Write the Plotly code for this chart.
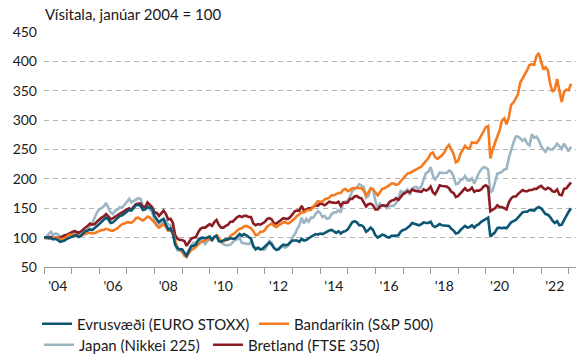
import pandas as pd
import plotly.graph_objects as go

# Monthly index values, January 2004 = 100 (Jan 2004 .. Feb 2023)
evrusvaedi = [
    100, 101, 99, 99, 97, 98, 96, 93, 94, 95, 98, 100,
    101, 103, 104, 101, 103, 107, 111, 112, 114, 113, 116, 119,
    123, 127, 131, 134, 131, 125, 126, 130, 133, 137, 138, 141,
    145, 147, 146, 151, 155, 156, 154, 147, 148, 152, 150, 149,
    137, 131, 126, 130, 132, 122, 114, 116, 106, 88, 82, 80,
    80, 74, 69, 77, 85, 86, 88, 95, 99, 100, 99, 100,
    102, 96, 101, 103, 94, 93, 95, 97, 97, 99, 98, 98,
    102, 106, 103, 106, 104, 101, 98, 86, 80, 83, 80, 81,
    85, 90, 92, 88, 82, 79, 80, 85, 88, 87, 88, 92,
    95, 95, 95, 93, 98, 95, 96, 99, 101, 104, 106, 105,
    107, 106, 108, 110, 112, 113, 110, 108, 111, 107, 110, 111,
    114, 121, 126, 128, 126, 121, 121, 118, 110, 113, 117, 113,
    104, 100, 103, 105, 104, 101, 100, 103, 103, 104, 104, 110,
    113, 114, 117, 120, 125, 124, 122, 121, 123, 126, 125, 125,
    127, 120, 118, 120, 123, 121, 121, 121, 120, 115, 112, 107,
    108, 113, 116, 120, 117, 118, 121, 117, 121, 123, 127, 129,
    131, 134, 102, 105, 109, 116, 117, 116, 117, 116, 122, 126,
    128, 130, 134, 139, 143, 144, 144, 147, 146, 146, 150, 152,
    150, 145, 140, 139, 135, 129, 125, 128, 121, 122, 131, 137,
    144, 150,
]

bandarikin = [
    100, 100, 100, 99, 98, 100, 99, 97, 98, 99, 102, 105,
    105, 105, 105, 103, 103, 105, 107, 108, 108, 107, 108, 110,
    112, 113, 113, 115, 114, 112, 112, 114, 116, 120, 123, 124,
    126, 126, 125, 128, 133, 134, 131, 129, 132, 136, 134, 130,
    126, 120, 117, 120, 123, 118, 112, 112, 108, 95, 82, 80,
    77, 69, 67, 74, 79, 81, 84, 88, 92, 93, 95, 98,
    97, 96, 100, 104, 100, 93, 94, 95, 97, 103, 105, 108,
    112, 115, 116, 119, 120, 118, 116, 111, 104, 105, 110, 110,
    113, 119, 122, 124, 120, 118, 121, 123, 126, 126, 124, 126,
    129, 133, 137, 140, 143, 143, 146, 147, 147, 152, 158, 162,
    161, 161, 165, 166, 168, 172, 172, 174, 176, 176, 181, 183,
    179, 181, 184, 184, 185, 184, 184, 180, 172, 177, 184, 182,
    176, 172, 177, 183, 184, 186, 189, 192, 192, 190, 191, 196,
    200, 205, 209, 210, 212, 214, 216, 218, 221, 226, 231, 235,
    243, 245, 237, 234, 237, 240, 245, 253, 258, 249, 242, 228,
    231, 243, 249, 256, 252, 252, 262, 261, 261, 266, 274, 282,
    288, 290, 235, 250, 263, 272, 282, 299, 303, 293, 305, 326,
    330, 338, 344, 364, 371, 377, 385, 394, 395, 394, 409, 414,
    400, 386, 390, 385, 362, 348, 352, 370, 350, 331, 348, 352,
    351, 362,
]

japan = [
    100, 101, 106, 110, 104, 107, 106, 102, 103, 102, 103, 104,
    105, 106, 110, 106, 104, 107, 109, 113, 120, 125, 134, 143,
    148, 150, 153, 159, 152, 143, 140, 146, 148, 152, 151, 156,
    161, 166, 160, 162, 164, 167, 166, 154, 152, 154, 148, 144,
    131, 126, 118, 123, 130, 129, 123, 121, 115, 88, 78, 78,
    76, 71, 72, 80, 86, 91, 91, 97, 97, 94, 89, 94,
    99, 96, 101, 103, 97, 92, 89, 87, 87, 88, 92, 96,
    97, 100, 91, 90, 89, 89, 93, 84, 82, 82, 80, 80,
    80, 87, 94, 91, 83, 80, 82, 84, 84, 83, 86, 91,
    101, 106, 114, 121, 134, 124, 132, 127, 134, 134, 140, 145,
    142, 135, 137, 132, 133, 140, 143, 143, 147, 143, 160, 162,
    163, 170, 179, 183, 185, 191, 188, 186, 168, 171, 183, 183,
    162, 150, 158, 154, 154, 150, 154, 154, 154, 159, 167, 179,
    177, 179, 182, 173, 183, 186, 186, 183, 187, 199, 210, 212,
    220, 205, 199, 204, 211, 210, 210, 210, 214, 212, 204, 191,
    192, 198, 199, 205, 198, 197, 201, 192, 201, 210, 216, 220,
    219, 216, 176, 181, 194, 209, 210, 212, 216, 217, 236, 250,
    262, 272, 272, 269, 265, 268, 260, 257, 276, 270, 272, 266,
    256, 250, 246, 253, 250, 250, 254, 260, 256, 251, 260, 254,
    247, 255,
]

bretland = [
    100, 99, 101, 101, 99, 100, 100, 99, 102, 104, 105, 107,
    109, 111, 110, 108, 110, 114, 117, 120, 124, 122, 123, 127,
    131, 134, 136, 140, 136, 131, 133, 136, 138, 141, 143, 146,
    148, 150, 147, 153, 157, 158, 158, 152, 152, 160, 156, 152,
    143, 142, 137, 142, 146, 140, 131, 132, 125, 104, 98, 96,
    96, 94, 86, 92, 98, 100, 101, 109, 115, 117, 117, 120,
    123, 120, 126, 130, 122, 117, 117, 120, 122, 127, 127, 131,
    135, 137, 135, 137, 137, 135, 135, 124, 121, 123, 122, 124,
    127, 132, 133, 131, 124, 124, 127, 130, 133, 132, 132, 135,
    141, 145, 146, 146, 154, 146, 148, 150, 150, 153, 155, 154,
    158, 157, 155, 158, 161, 160, 160, 159, 161, 154, 160, 159,
    160, 166, 166, 170, 171, 168, 167, 161, 153, 157, 158, 155,
    148, 148, 153, 155, 155, 154, 160, 163, 164, 167, 164, 169,
    174, 176, 179, 177, 182, 180, 179, 178, 178, 182, 180, 182,
    187, 177, 174, 181, 189, 188, 188, 187, 184, 178, 176, 169,
    171, 176, 179, 184, 180, 181, 185, 178, 180, 180, 182, 187,
    189, 186, 145, 147, 150, 155, 152, 152, 150, 148, 160, 167,
    170, 170, 174, 178, 181, 179, 179, 181, 181, 183, 183, 186,
    188, 184, 182, 185, 183, 179, 178, 182, 173, 172, 183, 184,
    189, 194,
]

months = pd.date_range("2004-01-01", periods=len(evrusvaedi), freq="MS")

year_labels = ["'04", "'06", "'08", "'10", "'12", "'14", "'16", "'18", "'20", "'22"]
label_dates = [f"20{lbl[1:]}-07-01" for lbl in year_labels]
y_ticks = [50, 100, 150, 200, 250, 300, 350, 400, 450]

FONT = "Lato"
TEXT = "#1a1a1a"

# plot area in pixels: left 44, top 32, width 532, height 235
PLOT_L, PLOT_T, PLOT_W, PLOT_H = 44, 32, 532, 235


def px_x(px):
    return (px - PLOT_L) / PLOT_W


def px_y(py):
    return (PLOT_T + PLOT_H - py) / PLOT_H


series = [
    # (name, values, colour, legend id, legend left px, legend row centre px)
    ("Japan (Nikkei 225)", japan, "#9db6c4", "legend3", 39, 345),
    ("Bretland (FTSE 350)", bretland, "#8c1c24", "legend4", 208, 345),
    ("Bandaríkin (S&P 500)", bandarikin, "#f47b20", "legend2", 254, 324),
    ("Evrusvæði (EURO STOXX)", evrusvaedi, "#0c5673", "legend", 37, 324),
]

fig = go.Figure()
legends = {}
for name, vals, colour, leg, lx, ly in series:
    fig.add_trace(go.Scatter(
        x=months, y=vals, mode="lines", name=name,
        line=dict(color=colour, width=2.6),
        legend=leg, showlegend=True,
    ))
    legends[leg] = dict(
        orientation="h", xref="paper", yref="paper",
        x=px_x(lx), y=px_y(ly), xanchor="left", yanchor="middle",
        font=dict(family=FONT, size=15, color=TEXT),
        bgcolor="rgba(0,0,0,0)", borderwidth=0,
    )

fig.update_layout(
    width=576, height=354,
    margin=dict(l=PLOT_L, r=0, t=PLOT_T, b=354 - PLOT_T - PLOT_H,
                autoexpand=False),
    paper_bgcolor="white", plot_bgcolor="white",
    font=dict(family=FONT, size=14, color=TEXT),
    **legends,
    xaxis=dict(
        type="date",
        range=["2004-01-01", "2023-04-08"],
        tickmode="array", tickvals=label_dates, ticktext=year_labels,
        ticks="", showgrid=False,
        showline=True, linecolor="#9a9a9a", linewidth=1,
        tickfont=dict(family=FONT, size=14, color=TEXT),
        ticklabelstandoff=6,
        minor=dict(ticks="outside", ticklen=6, tickcolor="#9a9a9a",
                   dtick="M12", tick0="2004-01-01", showgrid=False),
        zeroline=False,
    ),
    yaxis=dict(
        range=[50, 450],
        tickmode="array", tickvals=y_ticks,
        ticks="", showline=False, zeroline=False,
        showgrid=True, gridcolor="#b3b3b3", gridwidth=1, griddash="5px,4px",
        tickfont=dict(family=FONT, size=14, color=TEXT),
        ticklabelstandoff=6,
    ),
    annotations=[dict(
        text="Vísitala, janúar 2004 = 100",
        xref="paper", yref="paper", x=px_x(43), y=px_y(14),
        xanchor="left", yanchor="middle", showarrow=False,
        font=dict(family=FONT, size=15, color=TEXT),
    )],
)

fig.write_html("out.html")
